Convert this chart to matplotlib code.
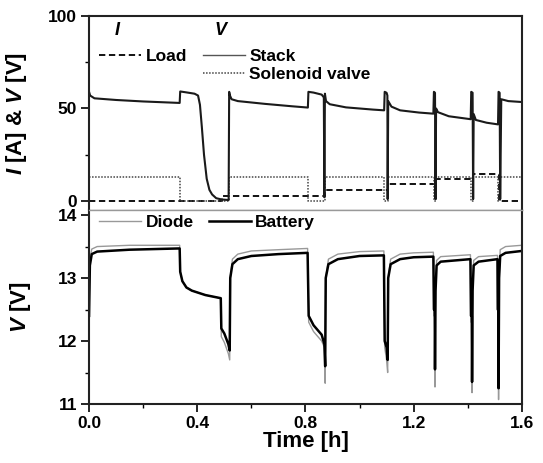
import matplotlib
matplotlib.use('Agg')
import matplotlib.pyplot as plt
from matplotlib.ticker import MultipleLocator
from matplotlib.lines import Line2D

plt.rcParams['font.family'] = ['Liberation Sans', 'DejaVu Sans']
plt.rcParams['font.weight'] = 'bold'
plt.rcParams['mathtext.fontset'] = 'custom'
plt.rcParams['mathtext.it'] = 'Liberation Sans:italic:bold'
plt.rcParams['mathtext.rm'] = 'Liberation Sans:bold'

# top panel: load current, solenoid valve current, stack voltage
load_t = [0.0, 0.49, 0.49, 0.873, 0.873, 1.104, 1.104, 1.278, 1.278,
          1.419, 1.419, 1.515, 1.515, 1.6]
load_a = [0, 0, 2.8, 2.8, 5.8, 5.8, 8.9, 8.9, 11.7, 11.7, 14.6, 14.6, 0, 0]

valve_t = [0.0, 0.336, 0.336, 0.518, 0.518, 0.81, 0.81, 0.873, 0.873,
           1.092, 1.092, 1.104, 1.104, 1.274, 1.274, 1.282, 1.282,
           1.412, 1.412, 1.42, 1.42, 1.512, 1.512, 1.52, 1.52, 1.6]
valve_a = [13.2, 13.2, 0, 0, 13.2, 13.2, 0, 0, 13.2, 13.2, 0, 0, 13.2,
           13.2, 0, 0, 13.2, 13.2, 0, 0, 13.2, 13.2, 0, 0, 13.2, 13.2]

stack_t = [0.0, 0.004, 0.02, 0.1, 0.2, 0.335,
           0.337, 0.36, 0.39, 0.403, 0.41, 0.417, 0.425, 0.435, 0.445,
           0.455, 0.47, 0.49, 0.516,
           0.518, 0.521, 0.527, 0.55, 0.65, 0.75, 0.809,
           0.811, 0.83, 0.86, 0.868, 0.870, 0.872, 0.876, 0.89, 0.95, 1.05, 1.091,
           1.093, 1.1, 1.103, 1.104, 1.106, 1.118, 1.15, 1.22, 1.273,
           1.275, 1.279, 1.281, 1.283, 1.29, 1.33, 1.411,
           1.413, 1.418, 1.420, 1.422, 1.43, 1.47, 1.512,
           1.514, 1.518, 1.52, 1.524, 1.55, 1.6]
stack_v = [59.0, 57.0, 55.5, 54.6, 53.8, 53.0,
           59.2, 58.7, 58.0, 57.0, 52.0, 40.0, 25.0, 12.0, 6.0,
           3.5, 1.5, 0.8, 0.5,
           59.0, 57.0, 55.0, 54.0, 52.5, 51.2, 50.5,
           59.0, 58.6, 57.5, 56.0, 2.0, 58.0, 54.0, 52.3, 50.6, 49.4, 49.0,
           59.0, 58.5, 57.0, 1.0, 54.0, 51.0, 49.0, 47.8, 47.2,
           59.0, 58.5, 1.0, 50.0, 48.0, 45.8, 44.2,
           59.0, 58.5, 1.0, 47.0, 43.8, 42.3, 41.4,
           59.0, 58.5, 1.0, 55.0, 54.0, 53.5]

# bottom panel: diode and battery voltage
batt_t = [0.0, 0.003, 0.01, 0.03, 0.15, 0.335,
          0.337, 0.345, 0.36, 0.38, 0.43, 0.487,
          0.489, 0.50, 0.515, 0.52, 0.522, 0.53, 0.55, 0.6, 0.7, 0.808,
          0.812, 0.83, 0.86, 0.87, 0.873, 0.875, 0.885, 0.92, 1.0, 1.09,
          1.093, 1.1, 1.104, 1.106, 1.115, 1.15, 1.2, 1.273,
          1.275, 1.278, 1.279, 1.281, 1.285, 1.3, 1.41,
          1.412, 1.415, 1.416, 1.418, 1.422, 1.44, 1.51,
          1.511, 1.513, 1.514, 1.516, 1.52, 1.54, 1.6]
batt_v = [12.4, 13.2, 13.38, 13.42, 13.45, 13.47,
          13.1, 12.95, 12.85, 12.8, 12.73, 12.68,
          12.2, 12.12, 11.95, 11.85, 13.0, 13.22, 13.3, 13.35, 13.38, 13.4,
          12.4, 12.25, 12.1, 11.95, 11.6, 13.0, 13.22, 13.3, 13.35, 13.36,
          12.0, 11.9, 11.7, 13.0, 13.22, 13.3, 13.33, 13.34,
          12.5, 12.5, 11.55, 12.8, 13.2, 13.26, 13.3,
          12.4, 12.4, 11.35, 12.8, 13.2, 13.26, 13.3,
          12.5, 12.5, 11.25, 13.0, 13.35, 13.4, 13.43]

diode_t = batt_t
diode_v = [12.45, 13.3, 13.46, 13.5, 13.52, 13.52,
           13.1, 12.95, 12.85, 12.8, 12.73, 12.68,
           12.07, 11.98, 11.8, 11.7, 13.0, 13.3, 13.38, 13.43, 13.45, 13.47,
           12.3, 12.15, 12.0, 11.9, 11.33, 13.0, 13.3, 13.38, 13.42, 13.43,
           11.9, 11.7, 11.5, 13.0, 13.3, 13.38, 13.4, 13.41,
           12.4, 12.4, 11.27, 12.8, 13.28, 13.34, 13.37,
           12.3, 12.3, 11.18, 12.8, 13.28, 13.34, 13.36,
           12.4, 12.4, 11.07, 13.0, 13.45, 13.5, 13.52]

fig = plt.figure(figsize=(5.43, 4.63), dpi=100)
ax1 = fig.add_axes([0.164, 0.5464, 0.797, 0.419])
ax2 = fig.add_axes([0.164, 0.1274, 0.797, 0.419], sharex=ax1)

l_load, = ax1.plot(load_t, load_a, color='black', lw=1.3, ls=(0, (3.5, 2)))
l_valve, = ax1.plot(valve_t, valve_a, color='#444444', lw=1.1, ls=(0, (1, 1)))
l_stack, = ax1.plot(stack_t, stack_v, color='#1a1a1a', lw=1.5)

ax1.set_xlim(0, 1.6)
ax1.set_ylim(-4.9, 100)
ax1.set_yticks([0, 50, 100])
ax1.yaxis.set_minor_locator(MultipleLocator(25))
ax1.tick_params(axis='x', which='both', bottom=False, labelbottom=False)
ax1.tick_params(axis='y', which='major', direction='out', length=6, width=1.2,
                labelsize=12.5, pad=2.5)
ax1.tick_params(axis='y', which='minor', direction='out', length=3, width=1.0)
ax1.set_ylabel(r'$I$ [A] & $V$ [V]', fontsize=16, fontweight='bold')
ax1.yaxis.set_label_coords(-0.138, 0.5)

ax1.text(0.107, 92.4, r'$I$', fontsize=13, ha='center', va='center')
ax1.text(0.49, 92.4, r'$V$', fontsize=13, ha='center', va='center')
leg1 = ax1.legend([l_load], ['Load'], loc='upper left', bbox_to_anchor=(0.0, 0.885),
                  frameon=False, fontsize=12.5, handlelength=2.4, handletextpad=0.25,
                  borderaxespad=0.2)
ax1.add_artist(leg1)
stack_h = Line2D([], [], color='#555555', lw=1.0)
ax1.legend([stack_h, l_valve], ['Stack', 'Solenoid valve'], loc='upper left',
           bbox_to_anchor=(0.24, 0.885), frameon=False, fontsize=12.5,
           handlelength=2.4, handletextpad=0.25, borderaxespad=0.2,
           labelspacing=0.15)

ax2.plot(diode_t, diode_v, color='#999999', lw=1.0, label='Diode')
ax2.plot(batt_t, batt_v, color='black', lw=1.8, label='Battery')
ax2.set_ylim(11, 14.08)
ax2.set_yticks([11, 12, 13, 14])
ax2.yaxis.set_minor_locator(MultipleLocator(0.5))
ax2.set_xticks([0.0, 0.4, 0.8, 1.2, 1.6])
ax2.set_xticklabels(['0.0', '0.4', '0.8', '1.2', '1.6'])
ax2.xaxis.set_minor_locator(MultipleLocator(0.2))
ax2.tick_params(which='major', direction='out', length=6, width=1.2,
                labelsize=12.5, pad=2.5)
ax2.tick_params(which='minor', direction='out', length=3, width=1.0)
ax2.set_xlabel('Time [h]', fontsize=16, fontweight='bold', labelpad=0)
ax2.set_ylabel(r'$V$ [V]', fontsize=16, fontweight='bold')
ax2.yaxis.set_label_coords(-0.13, 0.5)
ax2.legend(loc='upper left', ncol=2, frameon=False, fontsize=12.5,
           handlelength=2.4, handletextpad=0.25, columnspacing=0.9,
           borderaxespad=0.2, bbox_to_anchor=(0.0, 1.03))

for ax in (ax1, ax2):
    for s in ax.spines.values():
        s.set_linewidth(1.5)
        s.set_color('#222222')
ax1.spines['bottom'].set_color('#999999')
ax1.spines['bottom'].set_linewidth(1.0)
ax2.spines['top'].set_color('#999999')
ax2.spines['top'].set_linewidth(1.0)

fig.savefig('out.png', dpi=100)
